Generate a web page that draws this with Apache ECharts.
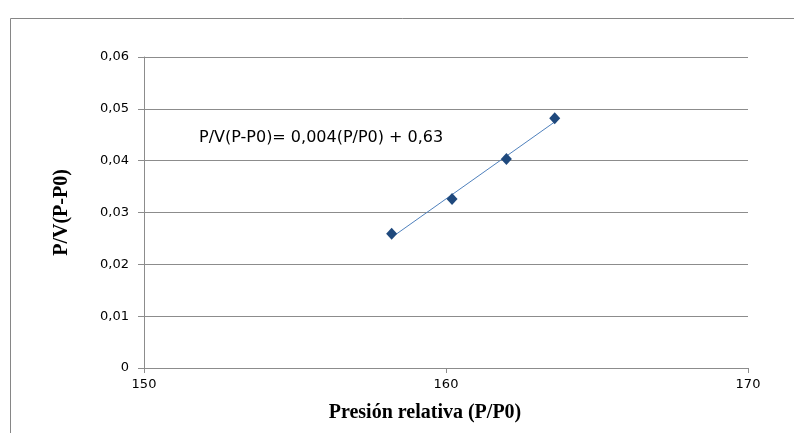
<!DOCTYPE html>
<html>
<head>
<meta charset="utf-8">
<script src="https://cdn.jsdelivr.net/npm/echarts@6/dist/echarts.min.js"></script>
<style>
  html, body { margin: 0; padding: 0; background: #fff; }
  #chart { width: 794px; height: 433px; }
</style>
</head>
<body>
<div id="chart"></div>
<script>
// Relative pressure vs P/V(P-P0) measurements
const presionRelativa = [158.2, 160.2, 162.0, 163.6];
const pvValues = [0.0259, 0.0326, 0.0403, 0.0482];
const xTicks = [150, 160, 170];
const yTicks = [0, 0.01, 0.02, 0.03, 0.04, 0.05, 0.06];
const equationText = 'P/V(P-P0)= 0,004(P/P0) + 0,63';

// Least-squares trend line across the measured range
function linearFit(xs, ys) {
  const n = xs.length;
  const mx = xs.reduce((a, b) => a + b, 0) / n;
  const my = ys.reduce((a, b) => a + b, 0) / n;
  let sxy = 0, sxx = 0;
  for (let i = 0; i < n; i++) {
    sxy += (xs[i] - mx) * (ys[i] - my);
    sxx += (xs[i] - mx) * (xs[i] - mx);
  }
  const slope = sxy / sxx;
  return { slope, intercept: my - slope * mx };
}
const fit = linearFit(presionRelativa, pvValues);
const xMinData = Math.min(...presionRelativa);
const xMaxData = Math.max(...presionRelativa);
const trend = [
  [xMinData, fit.slope * xMinData + fit.intercept],
  [xMaxData, fit.slope * xMaxData + fit.intercept]
];

const gridColor = '#8c8c8c';
const chart = echarts.init(document.getElementById('chart'));
chart.setOption({
  animation: false,
  backgroundColor: '#fff',
  grid: { left: 144, right: 46, top: 57, bottom: 65 },
  xAxis: {
    type: 'value',
    min: xTicks[0],
    max: xTicks[xTicks.length - 1],
    interval: 10,
    name: 'Presión relativa (P/P0)',
    nameLocation: 'middle',
    nameGap: 35,
    nameTextStyle: {
      fontFamily: 'Liberation Serif', fontWeight: 'bold', fontSize: 20, color: '#000',
      padding: [0, 42, 0, 0]
    },
    axisLine: { lineStyle: { color: gridColor, width: 1 } },
    axisTick: { show: true, length: 5, lineStyle: { color: gridColor } },
    axisLabel: { margin: 10, fontFamily: 'DejaVu Sans', fontSize: 13, color: '#000' },
    splitLine: { show: false }
  },
  yAxis: {
    type: 'value',
    min: yTicks[0],
    max: yTicks[yTicks.length - 1],
    interval: 0.01,
    name: 'P/V(P-P0)',
    nameLocation: 'middle',
    nameGap: 72,
    nameTextStyle: { fontFamily: 'Liberation Serif', fontWeight: 'bold', fontSize: 20, color: '#000' },
    axisLine: { show: true, lineStyle: { color: gridColor, width: 1 } },
    axisTick: { show: true, length: 6, lineStyle: { color: gridColor } },
    axisLabel: {
      margin: 15,
      fontFamily: 'DejaVu Sans',
      fontSize: 13,
      color: '#000',
      formatter: v => v === 0 ? '0' : v.toFixed(2).replace('.', ',')
    },
    splitLine: { show: true, lineStyle: { color: gridColor, width: 1 } }
  },
  series: [
    {
      type: 'line',
      data: trend,
      symbol: 'none',
      lineStyle: { color: '#4f81bd', width: 1 },
      z: 2
    },
    {
      type: 'scatter',
      data: presionRelativa.map((x, i) => [x, pvValues[i]]),
      symbol: 'diamond',
      symbolSize: [11, 12],
      itemStyle: { color: '#1f497d', opacity: 1 },
      z: 3
    }
  ],
  graphic: [
    {
      type: 'rect',
      shape: { x: 10.5, y: 18.5, width: 800, height: 430 },
      style: { fill: null, stroke: '#868686', lineWidth: 1 },
      silent: true
    },
    {
      type: 'text',
      left: 199,
      top: 130,
      style: { text: equationText, fontFamily: 'DejaVu Sans', fontSize: 16, fill: '#000' }
    }
  ]
});
</script>
</body>
</html>
